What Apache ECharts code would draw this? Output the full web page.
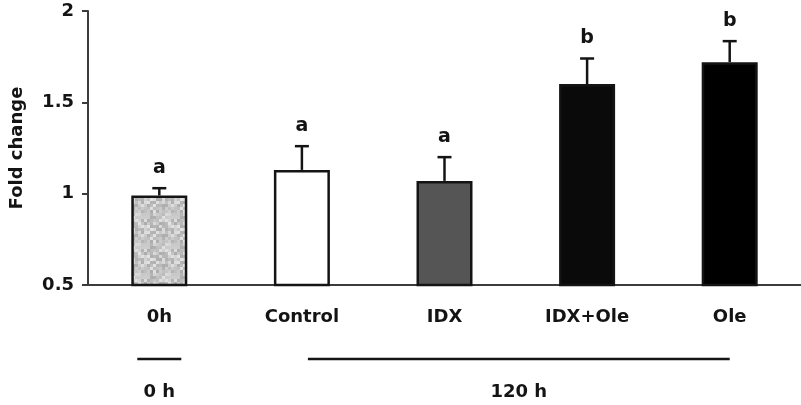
<!DOCTYPE html>
<html>
<head>
<meta charset="utf-8">
<script src="https://cdn.jsdelivr.net/npm/echarts@6/dist/echarts.min.js"></script>
<style>
  html, body { margin: 0; padding: 0; background: #fff; }
  #chart { width: 801px; height: 405px; }
</style>
</head>
<body>
<div id="chart"></div>
<script>
// --- data ---
var categories = ['0h', 'Control', 'IDX', 'IDX+Ole', 'Ole'];
var means = [0.99, 1.13, 1.07, 1.60, 1.72];
var errors = [0.04, 0.13, 0.13, 0.14, 0.115];
var letters = ['a', 'a', 'a', 'b', 'b'];
var groupLabels = ['0 h', '120 h'];
var groupFrom = [0, 1];
var groupTo = [0, 4];

(function() {
  var ink = '#141414';
  var axisCol = '#3c3c3c';
  var font = 'DejaVu Sans, sans-serif';

  // speckled light-gray texture for the 0h bar
  var tex = document.createElement('canvas');
  tex.width = 30; tex.height = 30;
  var tctx = tex.getContext('2d');
  for (var i = 0; i < 10; i++) {
    for (var j = 0; j < 10; j++) {
      var h = Math.sin(i * 12.9898 + j * 78.233) * 43758.5453;
      h = h - Math.floor(h);
      var g = Math.round(172 + h * 56);
      tctx.fillStyle = 'rgb(' + g + ',' + g + ',' + g + ')';
      tctx.fillRect(i * 3, j * 3, 3, 3);
    }
  }
  var fills = [{ image: tex, repeat: 'repeat' }, '#ffffff', '#555555', '#0a0a0a', '#000000'];

  var chart = echarts.init(document.getElementById('chart'), null, { renderer: 'canvas' });

  chart.setOption({
    animation: false,
    backgroundColor: '#fff',
    grid: { left: 86, right: 0, top: 11, bottom: 120, containLabel: false },
    xAxis: {
      type: 'category',
      data: categories,
      axisLine: { lineStyle: { color: axisCol, width: 2 } },
      axisTick: { show: false },
      axisLabel: { color: ink, fontSize: 18, fontWeight: 'bold', fontFamily: font, margin: 23 }
    },
    yAxis: {
      type: 'value',
      min: 0.5,
      max: 2,
      interval: 0.5,
      name: 'Fold change',
      nameLocation: 'middle',
      nameGap: 62,
      nameTextStyle: { color: ink, fontSize: 18, fontWeight: 'bold', fontFamily: font },
      axisLine: { show: true, lineStyle: { color: axisCol, width: 2 } },
      axisTick: { show: true, length: 6, lineStyle: { color: axisCol, width: 2 } },
      axisLabel: { color: ink, fontSize: 18, fontWeight: 'bold', fontFamily: font, margin: 14 },
      splitLine: { show: false }
    },
    series: [
      {
        type: 'bar',
        barWidth: 56,
        data: means.map(function(v, i) {
          return { value: v, itemStyle: { color: fills[i] } };
        }),
        itemStyle: { borderColor: ink, borderWidth: 2.5 },
        z: 2
      },
      {
        type: 'custom',
        z: 3,
        data: means.map(function(v, i) { return [i, v, v + errors[i], letters[i]]; }),
        renderItem: function(params, api) {
          var base = api.coord([api.value(0), api.value(1)]);
          var top = api.coord([api.value(0), api.value(2)]);
          var lineStyle = { stroke: ink, lineWidth: 2.5 };
          return {
            type: 'group',
            children: [
              { type: 'line', shape: { x1: base[0], y1: base[1], x2: base[0], y2: top[1] }, style: lineStyle },
              { type: 'line', shape: { x1: base[0] - 7, y1: top[1], x2: base[0] + 7, y2: top[1] }, style: lineStyle },
              {
                type: 'text',
                style: {
                  text: letters[params.dataIndex],
                  x: base[0], y: top[1] - 20,
                  align: 'center', verticalAlign: 'middle',
                  font: 'bold 19px DejaVu Sans, sans-serif',
                  fill: ink
                }
              }
            ]
          };
        }
      }
    ]
  });

  // time-group brackets under the category labels
  var graphics = [];
  groupLabels.forEach(function(lbl, k) {
    var x1 = chart.convertToPixel({ xAxisIndex: 0 }, categories[groupFrom[k]]);
    var x2 = chart.convertToPixel({ xAxisIndex: 0 }, categories[groupTo[k]]);
    if (groupFrom[k] === groupTo[k]) { x1 -= 22; x2 += 22; } else { x1 += 6; }
    graphics.push({
      type: 'line',
      shape: { x1: x1, y1: 359, x2: x2, y2: 359 },
      style: { stroke: ink, lineWidth: 2.5 }
    });
    graphics.push({
      type: 'text',
      style: {
        text: lbl,
        x: (x1 + x2) / 2, y: 392,
        align: 'center', verticalAlign: 'middle',
        font: 'bold 18px DejaVu Sans, sans-serif',
        fill: ink
      }
    });
  });
  chart.setOption({ graphic: graphics });

  window.addEventListener('resize', function() { chart.resize(); });
})();
</script>
</body>
</html>
